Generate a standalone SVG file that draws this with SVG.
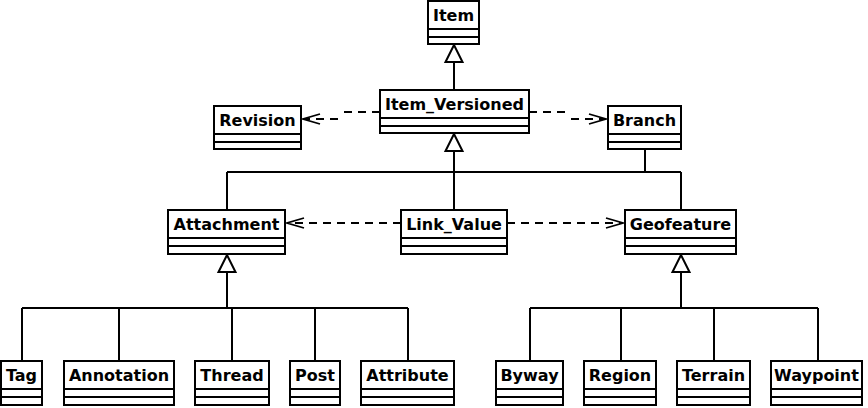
<svg xmlns="http://www.w3.org/2000/svg" width="868" height="408" viewBox="0 0 868 408">
<style>
.box{fill:#fff;stroke:#000;stroke-width:2}
.sep{stroke:#000;stroke-width:2}
.lbl{font-family:"DejaVu Sans",sans-serif;font-weight:bold;font-size:16px;fill:#000;text-anchor:middle}
.ln{fill:none;stroke:#000;stroke-width:2}
.dash{fill:none;stroke:#000;stroke-width:2;stroke-dasharray:8 6}
.tri{fill:#fff;stroke:#000;stroke-width:2;stroke-linejoin:miter}
.open{fill:none;stroke:#000;stroke-width:1.8}
</style>
<rect width="868" height="408" fill="#fff"/>
<g id="connectors">
<path class="ln" d="M454 62V90"/>
<polygon class="tri" points="454,45 445.5,62 462.5,62"/>
<path class="ln" d="M454 151V210M227 172H681M227 172V210M681 172V210M645 149V172"/>
<polygon class="tri" points="454,134 445.5,151 462.5,151"/>
<path class="ln" d="M227 272V308M22 308H408M22 308V361M119 308V361M232 308V361M315 308V361M408 308V361"/>
<polygon class="tri" points="227,255 218.5,272 235.5,272"/>
<path class="ln" d="M681 272V308M530 308H818M530 308V361M621 308V361M714 308V361M818 308V361"/>
<polygon class="tri" points="681,255 672.5,272 689.5,272"/>
<path class="dash" d="M380 112H339M338 119H305"/>
<path class="open" d="M320 114L303 119L320 124"/>
<path class="dash" d="M529 112H570M571 119H604"/>
<path class="open" d="M589 114L606 119L589 124"/>
<path class="dash" d="M401 223H289"/>
<path class="open" d="M304 218L287 223L304 228"/>
<path class="dash" d="M507 223H621"/>
<path class="open" d="M606 218L623 223L606 228"/>
</g>
<g id="Item"><rect class="box" x="428" y="1" width="51" height="43"/><path class="sep" d="M428 29H479M428 37H479"/><text class="lbl" x="453.5" y="20.5">Item</text></g>
<g id="Item_Versioned"><rect class="box" x="380" y="90" width="149" height="43"/><path class="sep" d="M380 118H529M380 126H529"/><text class="lbl" x="454.5" y="109.5">Item_Versioned</text></g>
<g id="Revision"><rect class="box" x="214" y="106" width="87" height="43"/><path class="sep" d="M214 134H301M214 142H301"/><text class="lbl" x="257.5" y="125.5">Revision</text></g>
<g id="Branch"><rect class="box" x="608" y="106" width="73" height="43"/><path class="sep" d="M608 134H681M608 142H681"/><text class="lbl" x="644.5" y="125.5">Branch</text></g>
<g id="Attachment"><rect class="box" x="168" y="210" width="117" height="44"/><path class="sep" d="M168 238H285M168 246H285"/><text class="lbl" x="226.5" y="229.5">Attachment</text></g>
<g id="Link_Value"><rect class="box" x="401" y="210" width="106" height="44"/><path class="sep" d="M401 238H507M401 246H507"/><text class="lbl" x="454" y="229.5">Link_Value</text></g>
<g id="Geofeature"><rect class="box" x="625" y="210" width="111" height="44"/><path class="sep" d="M625 238H736M625 246H736"/><text class="lbl" x="680.5" y="229.5">Geofeature</text></g>
<g id="Tag"><rect class="box" x="1" y="361" width="41" height="44"/><path class="sep" d="M1 389H42M1 397H42"/><text class="lbl" x="21.5" y="380.5">Tag</text></g>
<g id="Annotation"><rect class="box" x="64" y="361" width="110" height="44"/><path class="sep" d="M64 389H174M64 397H174"/><text class="lbl" x="119" y="380.5">Annotation</text></g>
<g id="Thread"><rect class="box" x="195" y="361" width="74" height="44"/><path class="sep" d="M195 389H269M195 397H269"/><text class="lbl" x="232" y="380.5">Thread</text></g>
<g id="Post"><rect class="box" x="290" y="361" width="50" height="44"/><path class="sep" d="M290 389H340M290 397H340"/><text class="lbl" x="315" y="380.5">Post</text></g>
<g id="Attribute"><rect class="box" x="361" y="361" width="93" height="44"/><path class="sep" d="M361 389H454M361 397H454"/><text class="lbl" x="407.5" y="380.5">Attribute</text></g>
<g id="Byway"><rect class="box" x="496" y="361" width="67" height="44"/><path class="sep" d="M496 389H563M496 397H563"/><text class="lbl" x="529.5" y="380.5">Byway</text></g>
<g id="Region"><rect class="box" x="584" y="361" width="72" height="44"/><path class="sep" d="M584 389H656M584 397H656"/><text class="lbl" x="620" y="380.5">Region</text></g>
<g id="Terrain"><rect class="box" x="677" y="361" width="73" height="44"/><path class="sep" d="M677 389H750M677 397H750"/><text class="lbl" x="713.5" y="380.5">Terrain</text></g>
<g id="Waypoint"><rect class="box" x="771" y="361" width="91" height="44"/><path class="sep" d="M771 389H862M771 397H862"/><text class="lbl" x="816.5" y="380.5">Waypoint</text></g>
</svg>
